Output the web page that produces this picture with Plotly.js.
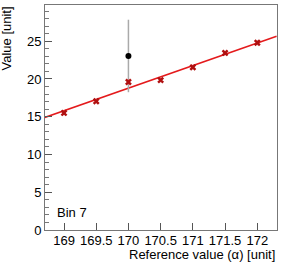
<!DOCTYPE html>
<html>
<head>
<meta charset="utf-8">
<script src="https://cdn.plot.ly/plotly-3.0.1.min.js"></script>
<style>html,body{margin:0;padding:0;background:#fff;}#plot{width:283px;height:274px;}</style>
</head>
<body>
<div id="plot"></div>
<script>
var refX = [169, 169.5, 170, 170.5, 171, 171.5, 172];
var refY = [15.5, 17.05, 19.6, 19.85, 21.55, 23.45, 24.8];
var refErr = [0.3, 0.3, 0.35, 0.3, 0.3, 0.3, 0.35];
var outX = [170];
var outY = [23.05];
var outErr = [4.8];
var fitX = [168.7, 172.3];
var fitY = [14.9, 25.66];
var xTicks = [169, 169.5, 170, 170.5, 171, 171.5, 172];
var xTickLabels = ["169", "169.5", "170", "170.5", "171", "171.5", "172"];

var font = "Liberation Sans, Arial, sans-serif";
var traces = [
  {x: fitX, y: fitY, mode: 'lines', line: {color: '#e41a1c', width: 1.5}, hoverinfo: 'skip'},
  {x: outX, y: outY, mode: 'markers', marker: {color: '#000', size: 6, symbol: 'circle'},
   error_y: {type: 'data', array: outErr, color: '#aaaaaa', thickness: 1.5, width: 0}},
  {x: refX, y: refY, mode: 'markers', marker: {color: '#b01010', size: 6, symbol: 'x'},
   error_y: {type: 'data', array: refErr, color: '#e88080', thickness: 1, width: 0}}
];
var layout = {
  width: 283, height: 274,
  margin: {l: 45, r: 6, t: 5, b: 44},
  paper_bgcolor: '#fff', plot_bgcolor: '#fff',
  showlegend: false,
  font: {family: font, size: 13, color: '#000'},
  xaxis: {
    range: [168.705, 172.306], tickvals: xTicks, ticktext: xTickLabels,
    ticks: 'inside', ticklen: 7, tickcolor: '#555', showgrid: false, zeroline: false,
    showline: true, linecolor: '#777', linewidth: 1, mirror: true,
    tickfont: {family: font, size: 13}, ticklabelstandoff: -2
  },
  yaxis: {
    range: [0, 29.8], dtick: 5, ticks: 'inside', ticklen: 7, tickcolor: '#555',
    showgrid: false, zeroline: false, showline: true, linecolor: '#777', linewidth: 1, mirror: true,
    tickfont: {family: font, size: 13},
    minor: {dtick: 1, ticks: 'inside', ticklen: 4, tickcolor: '#777'}
  },
  annotations: [
    {text: 'Reference value (\u03b1) [unit]', xref: 'paper', yref: 'paper', x: 1, y: 0, xanchor: 'right', yanchor: 'top', yshift: -15, showarrow: false, font: {family: font, size: 13}},
    {text: 'Value [unit]', xref: 'paper', yref: 'paper', x: 0, y: 1, xanchor: 'right', yanchor: 'top', xshift: -30, textangle: -90, showarrow: false, font: {family: font, size: 13}},
    {text: 'Bin 7', xref: 'paper', yref: 'paper', x: 0, y: 0, xanchor: 'left', yanchor: 'bottom', xshift: 10, yshift: 8, showarrow: false, font: {family: font, size: 13}}
  ]
};
Plotly.newPlot('plot', traces, layout, {displayModeBar: false, staticPlot: true});
</script>
</body>
</html>
